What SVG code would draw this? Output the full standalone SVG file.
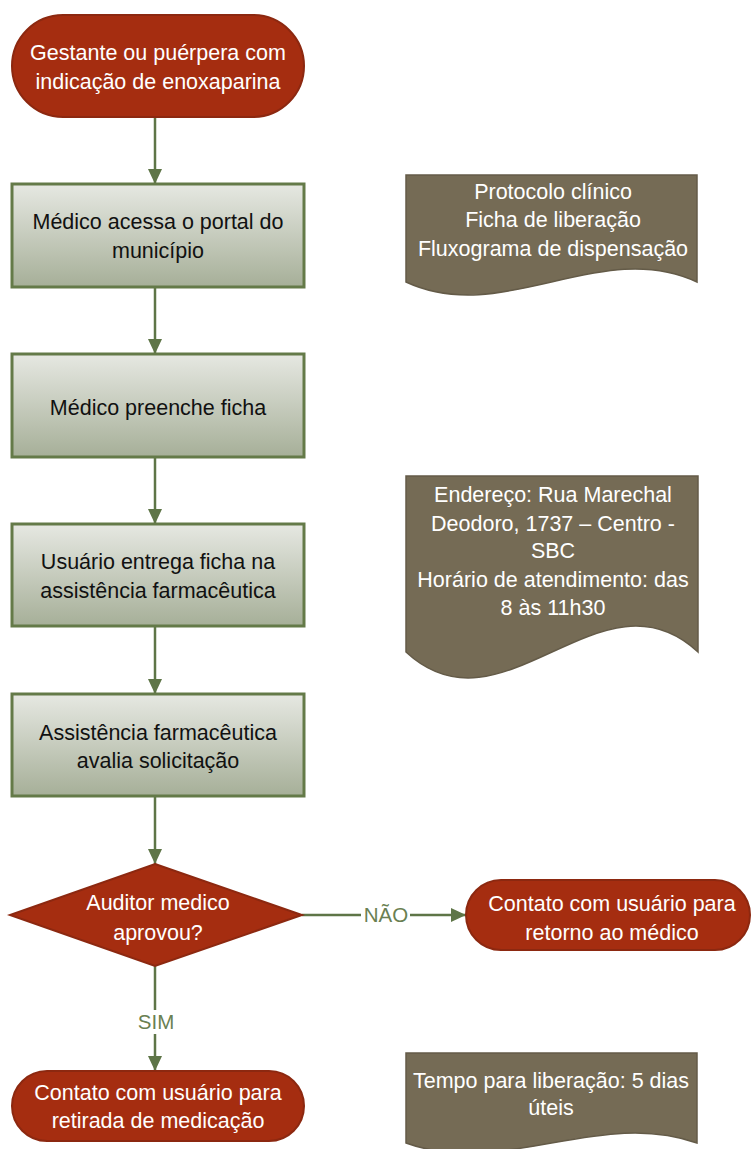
<svg xmlns="http://www.w3.org/2000/svg" width="752" height="1149" viewBox="0 0 752 1149">
<defs>
<linearGradient id="boxGrad" x1="0" y1="0" x2="0" y2="1">
<stop offset="0" stop-color="#E6E8E2"/>
<stop offset="1" stop-color="#A6AF98"/>
</linearGradient>
<marker id="arr" markerUnits="userSpaceOnUse" markerWidth="16" markerHeight="16" viewBox="0 0 16 16" refX="15" refY="8" orient="auto">
<path d="M0,1 L15,8 L0,15 Z" fill="#5E7547"/>
</marker>
</defs>
<style>
.term{fill:#A52D10;stroke:#8C2810;stroke-width:2}
.box{fill:url(#boxGrad);stroke:#647A48;stroke-width:3}
.doc{fill:#756B55;stroke:#645B48;stroke-width:1.5}
.wt{font-family:"Liberation Sans",Arial,sans-serif;font-size:21.5px;fill:#FFFFFF;text-anchor:middle}
.bt{font-family:"Liberation Sans",Arial,sans-serif;font-size:21.5px;fill:#111111;text-anchor:middle}
.lbl{font-family:"Liberation Sans",Arial,sans-serif;font-size:20.5px;fill:#6A7F52;text-anchor:middle}
.con{stroke:#5E7547;stroke-width:2.5;fill:none}
</style>
<g id="connectors">
<line class="con" x1="155" y1="117" x2="155" y2="184" marker-end="url(#arr)"/>
<line class="con" x1="155" y1="287" x2="155" y2="354" marker-end="url(#arr)"/>
<line class="con" x1="155" y1="457" x2="155" y2="524" marker-end="url(#arr)"/>
<line class="con" x1="155" y1="626" x2="155" y2="694" marker-end="url(#arr)"/>
<line class="con" x1="155" y1="796" x2="155" y2="864" marker-end="url(#arr)"/>
<line class="con" x1="302" y1="915" x2="466" y2="915" marker-end="url(#arr)"/>
<line class="con" x1="155" y1="966" x2="155" y2="1071" marker-end="url(#arr)"/>
<rect x="361" y="903" width="49" height="24" fill="#FFFFFF"/>
<text class="lbl" x="386" y="922">NÃO</text>
<rect x="135" y="1010" width="42" height="24" fill="#FFFFFF"/>
<text class="lbl" x="156" y="1029">SIM</text>
</g>
<g id="start">
<rect class="term" x="12" y="15" width="292" height="102" rx="51" ry="51"/>
<text class="wt" x="158" y="60">Gestante ou puérpera com</text>
<text class="wt" x="158" y="89">indicação de enoxaparina</text>
</g>
<g id="step1">
<rect class="box" x="12" y="184" width="292" height="103"/>
<text class="bt" x="158" y="229">Médico acessa o portal do</text>
<text class="bt" x="158" y="258">município</text>
</g>
<g id="step2">
<rect class="box" x="12" y="354" width="292" height="103"/>
<text class="bt" x="158" y="415">Médico preenche ficha</text>
</g>
<g id="step3">
<rect class="box" x="12" y="524" width="292" height="102"/>
<text class="bt" x="158" y="569">Usuário entrega ficha na</text>
<text class="bt" x="158" y="598">assistência farmacêutica</text>
</g>
<g id="step4">
<rect class="box" x="12" y="694" width="292" height="102"/>
<text class="bt" x="158" y="740">Assistência farmacêutica</text>
<text class="bt" x="158" y="768">avalia solicitação</text>
</g>
<g id="decision">
<path class="term" d="M155,864 L302,915 L155,966 L10,915 Z"/>
<text class="wt" x="158" y="910">Auditor medico</text>
<text class="wt" x="158" y="940">aprovou?</text>
</g>
<g id="no">
<rect class="term" x="466" y="880" width="284" height="70" rx="35" ry="35"/>
<text class="wt" x="612" y="911">Contato com usuário para</text>
<text class="wt" x="612" y="940">retorno ao médico</text>
</g>
<g id="yes">
<rect class="term" x="12" y="1071" width="292" height="70" rx="35" ry="35"/>
<text class="wt" x="158" y="1100">Contato com usuário para</text>
<text class="wt" x="158" y="1128">retirada de medicação</text>
</g>
<g id="doc1">
<path class="doc" d="M406,175 H697 V282 C600,237 503,327 406,282 Z"/>
<text class="wt" x="553" y="199">Protocolo clínico</text>
<text class="wt" x="553" y="227">Ficha de liberação</text>
<text class="wt" x="553" y="256">Fluxograma de dispensação</text>
</g>
<g id="doc2">
<path class="doc" d="M406,476 H698 V652 C601,562 503,742 406,652 Z"/>
<text class="wt" x="553" y="502">Endereço: Rua Marechal</text>
<text class="wt" x="553" y="531">Deodoro, 1737 – Centro -</text>
<text class="wt" x="553" y="558">SBC</text>
<text class="wt" x="553" y="587">Horário de atendimento: das</text>
<text class="wt" x="553" y="615">8 às 11h30</text>
</g>
<g id="doc3">
<path class="doc" d="M406,1053 H697 V1143 C600,1108 503,1178 406,1143 Z"/>
<text class="wt" x="551" y="1088">Tempo para liberação: 5 dias</text>
<text class="wt" x="551" y="1115">úteis</text>
</g>
</svg>
